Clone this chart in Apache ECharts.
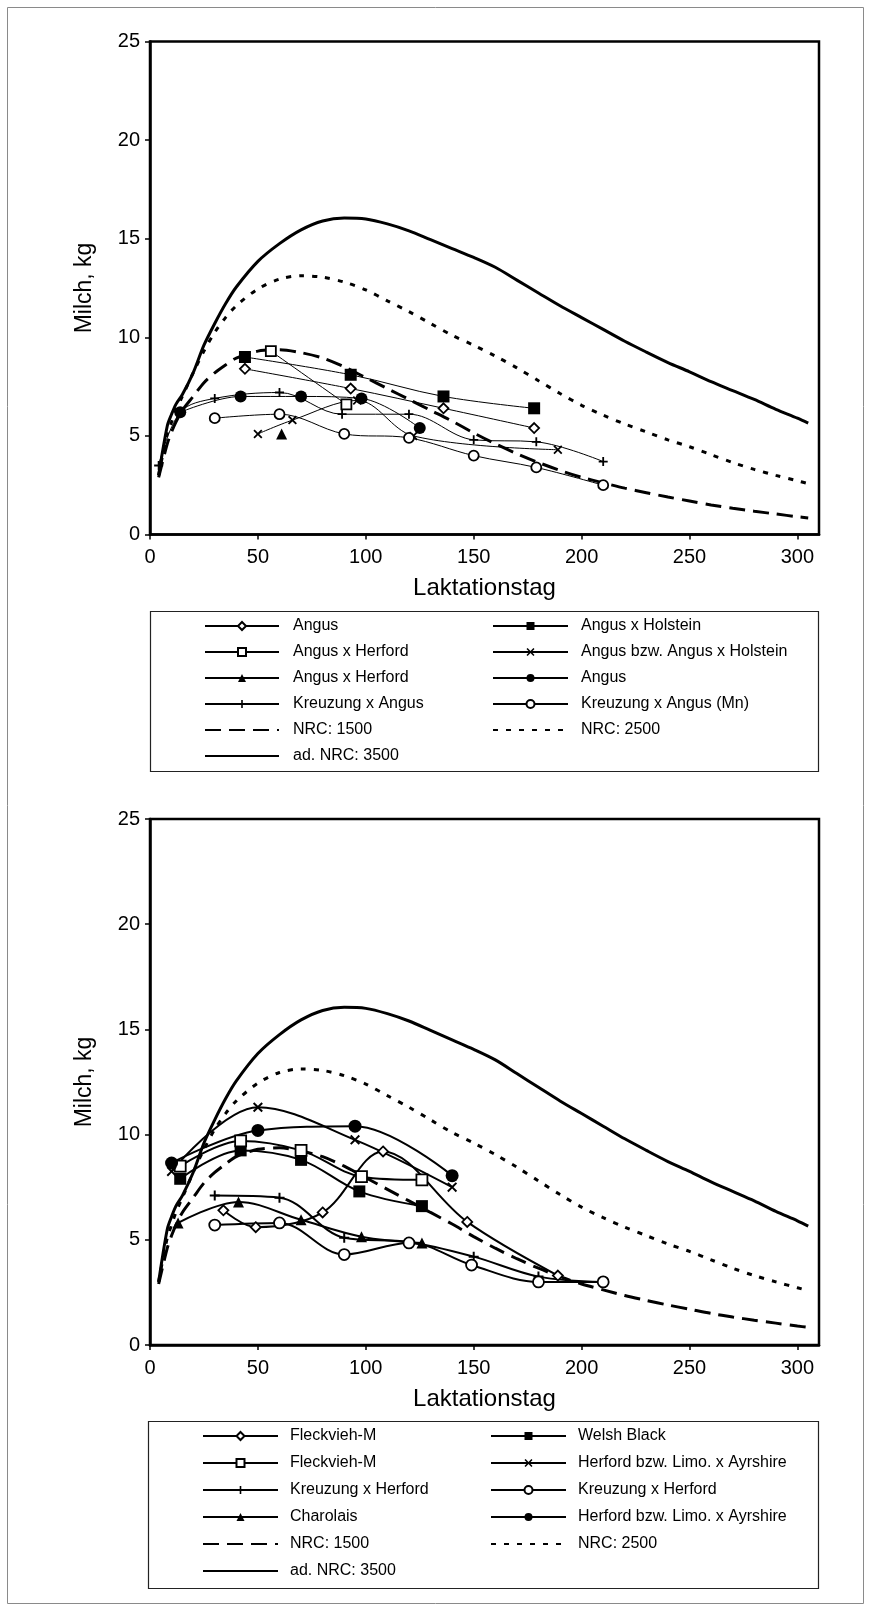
<!DOCTYPE html>
<html><head><meta charset="utf-8">
<script src="https://cdn.jsdelivr.net/npm/echarts@6/dist/echarts.min.js"></script>
<style>html,body{margin:0;padding:0;background:#fff}#c{width:871px;height:1611px}</style>
</head><body><div id="c"></div>
<script>
// ---- axis ticks ----
const xTicks = [0, 50, 100, 150, 200, 250, 300];
const yTicks = [0, 5, 10, 15, 20, 25];

// ---- NRC reference curves (day, kg) ----
const nrcDays = [4, 8, 10, 12, 15, 20, 25, 30, 35, 40, 50, 60, 70, 80, 90, 100, 110, 120, 130, 140, 150, 160, 170, 180, 190, 200, 210, 220, 230, 240, 250, 260, 270, 280, 290, 300, 305];
const nrc1500 = [2.9, 4.6, 5.2, 5.7, 6.3, 7.0, 7.7, 8.2, 8.6, 8.95, 9.3, 9.37, 9.22, 8.95, 8.5, 7.95, 7.4, 6.85, 6.3, 5.75, 5.15, 4.6, 4.1, 3.65, 3.25, 2.9, 2.62, 2.35, 2.12, 1.9, 1.7, 1.5, 1.33, 1.18, 1.04, 0.9, 0.84];
const nrc2500 = [3.0, 5.1, 5.7, 6.3, 7.0, 8.2, 9.3, 10.25, 11.0, 11.6, 12.45, 12.95, 13.12, 13.05, 12.8, 12.4, 11.85, 11.3, 10.7, 10.1, 9.6, 9.05, 8.45, 7.8, 7.15, 6.55, 6.05, 5.6, 5.2, 4.8, 4.45, 4.05, 3.65, 3.3, 3.0, 2.72, 2.58];
const nrc3500 = [3.0, 5.5, 6.1, 6.6, 7.1, 8.2, 9.6, 10.7, 11.7, 12.55, 13.85, 14.75, 15.45, 15.9, 16.05, 16.0, 15.75, 15.4, 14.95, 14.5, 14.05, 13.55, 12.9, 12.25, 11.6, 11.0, 10.4, 9.8, 9.25, 8.72, 8.25, 7.75, 7.3, 6.85, 6.35, 5.9, 5.65];

// ---- top chart studies ([day, kg]) ----
const angusDiamond = [[44, 8.4], [93, 7.4], [136, 6.4], [178, 5.4]];
const angusHolstein = [[44, 9.0], [93, 8.1], [136, 7.0], [178, 6.4]];
const angusHerfordSquare = [[56, 9.3], [91, 6.6]];
const angusBzwHolstein = [[50, 5.1], [66, 5.8], [96, 6.8], [122, 5.0], [189, 4.3]];
const angusHerfordTriangle = [[61, 5.1]];
const angusCircle = [[14, 6.2], [42, 7.0], [70, 7.0], [98, 6.9], [125, 5.4]];
const kreuzungAngus = [[4, 3.5], [14, 6.2], [30, 6.9], [60, 7.2], [89, 6.1], [120, 6.1], [150, 4.8], [179, 4.7], [210, 3.7]];
const kreuzungAngusMn = [[30, 5.9], [60, 6.1], [90, 5.1], [120, 4.9], [150, 4.0], [179, 3.4], [210, 2.5]];

// ---- bottom chart studies ([day, kg]) ----
const fleckDiamond = [[34, 6.4], [49, 5.6], [80, 6.3], [108, 9.2], [147, 5.85], [189, 3.3]];
const fleckSquare = [[14, 8.5], [42, 9.7], [70, 9.25], [98, 8.0], [126, 7.85]];
const welshBlack = [[14, 7.9], [42, 9.25], [70, 8.8], [97, 7.3], [126, 6.6]];
const herfordX = [[10, 8.25], [50, 11.3], [95, 9.75], [140, 7.5]];
const herfordCircle = [[10, 8.65], [50, 10.2], [95, 10.4], [140, 8.05]];
const kreuzHerfordPlus = [[30, 7.1], [60, 7.0], [90, 5.1], [120, 4.9], [150, 4.2], [180, 3.25], [210, 3.0]];
const kreuzHerfordCircle = [[30, 5.7], [60, 5.8], [90, 4.3], [120, 4.85], [149, 3.8], [180, 3.0], [210, 3.0]];
const charolais = [[13, 5.8], [41, 6.8], [70, 5.95], [98, 5.15], [126, 4.85]];

// ---- styling helpers ----
const FONT = 'Liberation Sans, Arial, sans-serif';
const PLUS = 'path://M4,0H6V4H10V6H6V10H4V6H0V4H4Z';
const CROSS = 'path://M0,1.4L1.4,0L5,3.6L8.6,0L10,1.4L6.4,5L10,8.6L8.6,10L5,6.4L1.4,10L0,8.6L3.6,5Z';
const CURVE_NAMES = ['NRC: 1500', 'NRC: 2500', 'ad. NRC: 3500'];

function study(name, data, gi, symbol, size, open, lw) {
  return {
    type: 'line', name: name, data: data, xAxisIndex: gi, yAxisIndex: gi,
    symbol: symbol, symbolSize: size, showAllSymbol: true, smooth: 0.35,
    lineStyle: { color: '#000', width: lw },
    itemStyle: open ? { color: '#fff', borderColor: '#000', borderWidth: 1.8 }
                    : { color: '#000', borderColor: '#000', borderWidth: 0 },
    z: 5, animation: false, clip: false
  };
}
function curve(name, vals, gi, type) {
  return {
    type: 'line', name: name, xAxisIndex: gi, yAxisIndex: gi,
    data: nrcDays.map((d, i) => [d, vals[i]]),
    symbol: 'none', smooth: 0.3,
    lineStyle: { color: '#000', width: 3, type: type, cap: 'butt' },
    itemStyle: { color: '#000' }, z: 3, animation: false
  };
}
function curves(gi) {
  return [
    curve(CURVE_NAMES[0], nrc1500, gi, [16, 8]),
    curve(CURVE_NAMES[1], nrc2500, gi, [5, 8]),
    curve(CURVE_NAMES[2], nrc3500, gi, 'solid')
  ];
}
function xAx(gi) {
  return {
    gridIndex: gi, type: 'value', min: 0, max: 310, interval: 50,
    name: 'Laktationstag', nameLocation: 'middle', nameGap: 42,
    nameTextStyle: { fontSize: 24, color: '#000', fontFamily: FONT },
    axisLine: { show: true, onZero: false, lineStyle: { color: '#000', width: 2.5 } },
    axisTick: { show: true, inside: false, length: 5, customValues: xTicks, lineStyle: { color: '#000', width: 1.5 } },
    axisLabel: { customValues: xTicks, fontSize: 20, color: '#000', margin: 13, fontFamily: FONT },
    splitLine: { show: false }
  };
}
function yAx(gi) {
  return {
    gridIndex: gi, type: 'value', min: 0, max: 25, interval: 5,
    name: 'Milch, kg', nameLocation: 'middle', nameGap: 54, nameRotate: 90,
    nameTextStyle: { fontSize: 23, color: '#000', fontFamily: FONT },
    axisLine: { show: true, onZero: false, lineStyle: { color: '#000', width: 2.5 } },
    axisTick: { show: true, inside: false, length: 5, customValues: yTicks, lineStyle: { color: '#000', width: 1.5 } },
    axisLabel: { customValues: yTicks, fontSize: 20, color: '#000', margin: 10, fontFamily: FONT },
    splitLine: { show: false }
  };
}
function leg(names, left, top, gap, padLeft, iw) {
  return {
    data: names.map(n => CURVE_NAMES.indexOf(n) >= 0
      ? { name: n, itemStyle: { color: 'rgba(0,0,0,0)', borderWidth: 0, opacity: 0 } }
      : { name: n }),
    orient: 'vertical', left: left, top: top, itemGap: gap, padding: 0,
    itemWidth: iw, itemHeight: 10, selectedMode: false,
    textStyle: { fontSize: 16, lineHeight: 16, color: '#000', fontFamily: FONT, padding: [4, 0, 0, padLeft] }
  };
}

const series = [].concat(
  curves(0),
  [
    study('Angus', angusDiamond, 0, 'diamond', 10, true, 1),
    study('Angus x Holstein', angusHolstein, 0, 'rect', 12, false, 1),
    study('Angus x Herford', angusHerfordSquare, 0, 'rect', 10, true, 1),
    study('Angus bzw. Angus x Holstein', angusBzwHolstein, 0, CROSS, 9, false, 1),
    study('Angus x Herford ', angusHerfordTriangle, 0, 'triangle', 11, false, 1),
    study('Angus ', angusCircle, 0, 'circle', 12, false, 1),
    study('Kreuzung x Angus', kreuzungAngus, 0, PLUS, 9, false, 1),
    study('Kreuzung x Angus (Mn)', kreuzungAngusMn, 0, 'circle', 10, true, 1)
  ],
  curves(1),
  [
    study('Fleckvieh-M', fleckDiamond, 1, 'diamond', 10, true, 2),
    study('Welsh Black', welshBlack, 1, 'rect', 12, false, 2),
    study('Fleckvieh-M ', fleckSquare, 1, 'rect', 11, true, 2),
    study('Herford bzw. Limo. x Ayrshire', herfordX, 1, CROSS, 10, false, 2),
    study('Kreuzung x Herford', kreuzHerfordPlus, 1, PLUS, 10, false, 2),
    study('Kreuzung x Herford ', kreuzHerfordCircle, 1, 'circle', 11, true, 2),
    study('Charolais', charolais, 1, 'triangle', 11, false, 2),
    study('Herford bzw. Limo. x Ayrshire ', herfordCircle, 1, 'circle', 13, false, 2)
  ]
);

const chart = echarts.init(document.getElementById('c'), null, { renderer: 'canvas' });
chart.setOption({
  backgroundColor: '#fff',
  animation: false,
  grid: [
    { left: 150, top: 41.5, width: 669, height: 493, show: true, borderColor: '#000', borderWidth: 2.5, backgroundColor: 'transparent' },
    { left: 150, top: 819, width: 669, height: 526, show: true, borderColor: '#000', borderWidth: 2.5, backgroundColor: 'transparent' }
  ],
  xAxis: [xAx(0), xAx(1)],
  yAxis: [yAx(0), yAx(1)],
  legend: [
    leg(['Angus', 'Angus x Herford', 'Angus x Herford ', 'Kreuzung x Angus', 'NRC: 1500', 'ad. NRC: 3500'], 204, 616, 6, 9, 74),
    leg(['Angus x Holstein', 'Angus bzw. Angus x Holstein', 'Angus ', 'Kreuzung x Angus (Mn)', 'NRC: 2500'], 492, 616, 6, 8, 75),
    leg(['Fleckvieh-M', 'Fleckvieh-M ', 'Kreuzung x Herford', 'Charolais', 'NRC: 1500', 'ad. NRC: 3500'], 202, 1426, 7, 7, 75),
    leg(['Welsh Black', 'Herford bzw. Limo. x Ayrshire', 'Kreuzung x Herford ', 'Herford bzw. Limo. x Ayrshire ', 'NRC: 2500'], 490, 1426, 7, 7, 75)
  ],
  graphic: [
    { type: 'rect', silent: true, shape: { x: 7.5, y: 7.5, width: 856, height: 1596 }, style: { fill: 'none', stroke: '#8a8a8a', lineWidth: 1 } },
    { type: 'rect', silent: true, shape: { x: 150.5, y: 611.5, width: 668, height: 160 }, style: { fill: 'none', stroke: '#222', lineWidth: 1.2 } },
    { type: 'rect', silent: true, shape: { x: 148.5, y: 1421.5, width: 670, height: 167 }, style: { fill: 'none', stroke: '#222', lineWidth: 1.2 } }
  ],
  series: series
});
</script></body></html>
